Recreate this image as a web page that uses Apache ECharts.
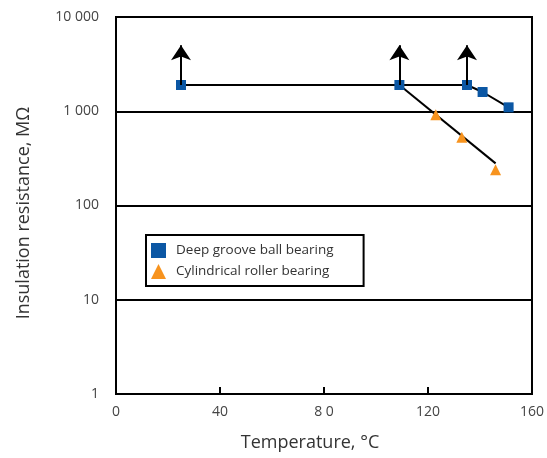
<!DOCTYPE html>
<html>
<head>
<meta charset="utf-8">
<script src="https://cdn.jsdelivr.net/npm/echarts@6/dist/echarts.min.js"></script>
<style>
  html, body { margin: 0; padding: 0; background: #fff; }
  #chart { width: 547px; height: 458px; }
</style>
</head>
<body>
<div id="chart"></div>
<script>
// deep groove ball bearing (blue squares)
const ballTemp = [25, 109, 135, 141, 151];
const ballRes = [1900, 1900, 1900, 1600, 1100];

// cylindrical roller bearing (orange triangles)
const rollerTemp = [123, 133, 146];
const rollerRes = [920, 530, 240];

// trend line of the roller bearing, starts at the ball bearing point
const rollerLineTemp = [109, 146];
const rollerLineRes = [1900, 280];

// arrows (value above the measured limit)
const arrowTemp = [25, 109, 135];
const arrowFrom = 1900;
const arrowTo = 5000;

const xTickLabels = { 0: '0', 40: '40', 80: '8 0', 120: '120', 160: '160' };
const yTickLabels = { 1: '1', 10: '10', 100: '100', 1000: '1 000', 10000: '10 000' };

const FONT = '"Open Sans", "Noto Sans", sans-serif';
const BLUE = '#0b57a4';
const ORANGE = '#f7931e';

const chart = echarts.init(document.getElementById('chart'));

const option = {
  backgroundColor: '#fff',
  animation: false,
  textStyle: { fontFamily: FONT },
  grid: {
    left: 116, right: 14, top: 17, bottom: 64,
    show: true, borderColor: '#000', borderWidth: 2
  },
  xAxis: {
    type: 'value',
    min: 0, max: 160, interval: 40,
    axisLine: { show: true, lineStyle: { color: '#000', width: 2 } },
    axisTick: { show: true, inside: true, length: 7, lineStyle: { color: '#000', width: 2 } },
    axisLabel: {
      color: '#444', fontSize: 14, margin: 11,
      formatter: v => xTickLabels[v] ?? String(v)
    },
    splitLine: { show: false }
  },
  yAxis: {
    type: 'log',
    logBase: 10,
    min: 1, max: 10000,
    axisLine: { show: true, lineStyle: { color: '#000', width: 2 } },
    axisTick: { show: false },
    axisLabel: {
      color: '#444', fontSize: 14, margin: 17,
      formatter: v => yTickLabels[Math.round(v)] ?? String(v)
    },
    splitLine: { show: true, lineStyle: { color: '#000', width: 2 } }
  },
  legend: {
    orient: 'vertical',
    left: 146, top: 235,
    borderColor: '#000', borderWidth: 2,
    padding: [8, 30, 7, 5],
    itemWidth: 15, itemHeight: 15, itemGap: 6,
    textStyle: { color: '#333', fontSize: 13.5, fontFamily: FONT, padding: [0, 0, 0, 5] },
    data: [
      { name: 'Deep groove ball bearing', icon: 'rect', itemStyle: { color: BLUE, opacity: 1 } },
      { name: 'Cylindrical roller bearing', icon: 'triangle', itemStyle: { color: ORANGE, opacity: 1 } }
    ]
  },
  graphic: [
    {
      type: 'text', x: 24, y: 213, rotation: Math.PI / 2,
      style: {
        text: 'Insulation resistance, MΩ', fontSize: 18, fontFamily: FONT,
        fill: '#333', align: 'center', verticalAlign: 'middle'
      }
    },
    {
      type: 'text', x: 310, y: 443,
      style: {
        text: 'Temperature, °C', fontSize: 18, fontFamily: FONT,
        fill: '#333', align: 'center', verticalAlign: 'middle'
      }
    }
  ],
  series: [
    {
      name: 'roller trend',
      type: 'line',
      z: 2,
      silent: true,
      symbol: 'none',
      lineStyle: { color: '#000', width: 2 },
      data: rollerLineTemp.map((t, i) => [t, rollerLineRes[i]])
    },
    {
      name: 'Deep groove ball bearing',
      type: 'line',
      z: 3,
      symbol: 'rect',
      symbolSize: 10,
      itemStyle: { color: BLUE },
      lineStyle: { color: '#000', width: 2 },
      data: ballTemp.map((t, i) => [t, ballRes[i]]),
      markLine: {
        silent: true,
        symbol: ['none', 'arrow'],
        symbolSize: 15,
        label: { show: false },
        itemStyle: { color: '#000' },
        lineStyle: { color: '#000', width: 2, type: 'solid' },
        data: arrowTemp.map(t => [{ coord: [t, arrowFrom] }, { coord: [t, arrowTo] }])
      }
    },
    {
      name: 'Cylindrical roller bearing',
      type: 'scatter',
      z: 4,
      symbol: 'triangle',
      symbolSize: 11,
      itemStyle: { color: ORANGE, opacity: 1 },
      data: rollerTemp.map((t, i) => [t, rollerRes[i]])
    }
  ]
};

chart.setOption(option);
</script>
</body>
</html>
